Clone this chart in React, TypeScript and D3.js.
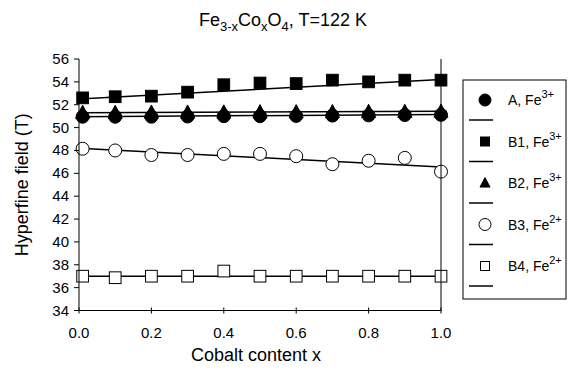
import React from "react";
import * as d3 from "d3";

// Cobalt content for every measured point
const cobalt = [0.01, 0.1, 0.2, 0.3, 0.4, 0.5, 0.6, 0.7, 0.8, 0.9, 1.0];

// hyperfine field (T) per site
const siteA = [50.95, 50.95, 50.95, 50.97, 51.0, 51.0, 51.02, 51.05, 51.07, 51.1, 51.12];
const siteB1 = [52.6, 52.7, 52.75, 53.1, 53.75, 53.9, 53.85, 54.15, 54.0, 54.15, 54.15];
const siteB2 = [51.3, 51.3, 51.32, 51.32, 51.33, 51.35, 51.35, 51.36, 51.38, 51.38, 51.4];
const siteB3 = [48.15, 48.0, 47.6, 47.6, 47.7, 47.7, 47.5, 46.8, 47.1, 47.35, 46.15];
const siteB4 = [37.0, 36.87, 37.0, 37.0, 37.45, 37.0, 37.0, 37.0, 37.0, 37.0, 37.0];

// linear fit ends at x = 0 and x = 1
const fitX = [0, 1];
const fitA = [50.95, 51.15];
const fitB1 = [52.5, 54.2];
const fitB2 = [51.3, 51.42];
const fitB3 = [48.2, 46.55];
const fitB4 = [37.0, 37.0];

const xTicks = [0, 0.2, 0.4, 0.6, 0.8, 1.0];
const yTicks = [34, 36, 38, 40, 42, 44, 46, 48, 50, 52, 54, 56];

type Shape = "circle" | "square" | "triangle";

const SERIES: { key: string; site: string; ion: string; shape: Shape; filled: boolean; values: number[]; fit: number[] }[] = [
  { key: "A", site: "A", ion: "3+", shape: "circle", filled: true, values: siteA, fit: fitA },
  { key: "B1", site: "B1", ion: "3+", shape: "square", filled: true, values: siteB1, fit: fitB1 },
  { key: "B2", site: "B2", ion: "3+", shape: "triangle", filled: true, values: siteB2, fit: fitB2 },
  { key: "B3", site: "B3", ion: "2+", shape: "circle", filled: false, values: siteB3, fit: fitB3 },
  { key: "B4", site: "B4", ion: "2+", shape: "square", filled: false, values: siteB4, fit: fitB4 },
];

const FONT = "'Liberation Sans', Arial, sans-serif";

function Marker({ shape, filled, cx, cy, size }: { shape: Shape; filled: boolean; cx: number; cy: number; size: number }) {
  const fill = filled ? "#000" : "#fff";
  const r = size / 2;
  if (shape === "circle") {
    return <circle cx={cx} cy={cy} r={r} fill={fill} stroke="#000" strokeWidth={1} />;
  }
  if (shape === "square") {
    return <rect x={cx - r * 0.9} y={cy - r * 0.9} width={r * 1.8} height={r * 1.8} fill={fill} stroke="#000" strokeWidth={1} />;
  }
  const h = r * 1.8;
  return (
    <path
      d={`M${cx},${cy - h * 0.6}L${cx + r},${cy + h * 0.45}L${cx - r},${cy + h * 0.45}Z`}
      fill={fill}
      stroke="#000"
      strokeWidth={1}
    />
  );
}

export default function App() {
  const width = 574;
  const height = 372;
  const margin = { left: 79, right: 133, top: 59, bottom: 61.5 };

  const x = d3.scaleLinear().domain([0, 1]).range([margin.left, width - margin.right]);
  const y = d3.scaleLinear().domain([34, 56]).range([height - margin.bottom, margin.top]);

  const line = d3
    .line<number>()
    .x((_, i) => x(fitX[i]))
    .y((d) => y(d));

  const legend = { x: 463, y: 80, w: 103, h: 219, step: 41.5 };

  return (
    <svg width={width} height={height} style={{ position: "absolute", left: 0, top: 0 }} fontFamily={FONT}>
      <rect width={width} height={height} fill="#fff" />

      {/* title */}
      <text x={283} y={26} fontSize={18} textAnchor="middle">
        Fe<tspan fontSize={13} dy={5}>3-x</tspan>
        <tspan dy={-5}>Co</tspan>
        <tspan fontSize={13} dy={5}>x</tspan>
        <tspan dy={-5}>O</tspan>
        <tspan fontSize={13} dy={5}>4</tspan>
        <tspan dy={-5}>, T=122 K</tspan>
      </text>

      {/* fit lines */}
      {SERIES.map((s) => (
        <path key={s.key + "-fit"} d={line(s.fit) || ""} fill="none" stroke="#000" strokeWidth={1.5} />
      ))}

      {/* markers */}
      {SERIES.map((s) => (
        <g key={s.key}>
          {s.values.map((v, i) => (
            <Marker key={i} shape={s.shape} filled={s.filled} cx={x(cobalt[i])} cy={y(v)} size={s.shape === "triangle" ? 14 : 13} />
          ))}
        </g>
      ))}

      {/* axes */}
      <line x1={x(0)} x2={x(0)} y1={y(34)} y2={y(56)} stroke="#000" strokeWidth={1} />
      <line x1={x(1)} x2={x(1)} y1={y(34)} y2={y(56)} stroke="#000" strokeWidth={1} />
      <line x1={x(0)} x2={x(1)} y1={y(34)} y2={y(34)} stroke="#000" strokeWidth={1} />
      {yTicks.map((t) => (
        <g key={t}>
          <line x1={x(0) - 5} x2={x(0)} y1={y(t)} y2={y(t)} stroke="#000" />
          <text x={x(0) - 10} y={y(t) + 5} fontSize={15} textAnchor="end">
            {t}
          </text>
        </g>
      ))}
      {xTicks.map((t) => (
        <g key={t}>
          <line x1={x(t)} x2={x(t)} y1={y(34) - 3} y2={y(34) + 3} stroke="#000" />
          <text x={x(t)} y={338} fontSize={15} textAnchor="middle">
            {d3.format(".1f")(t)}
          </text>
        </g>
      ))}
      <text x={256} y={361} fontSize={18} textAnchor="middle">
        Cobalt content x
      </text>
      <text transform={`translate(28,${(y(34) + y(56)) / 2}) rotate(-90)`} fontSize={18} textAnchor="middle">
        Hyperfine field (T)
      </text>

      {/* legend */}
      <rect x={legend.x} y={legend.y} width={legend.w} height={legend.h} fill="#fff" stroke="#000" strokeWidth={1} />
      {SERIES.map((s, i) => {
        const cy = legend.y + 20 + i * legend.step;
        return (
          <g key={s.key + "-leg"}>
            <Marker shape={s.shape} filled={s.filled} cx={485} cy={cy} size={s.shape === "circle" ? 12 : 10} />
            <line x1={469} x2={493} y1={cy + 20} y2={cy + 20} stroke="#000" strokeWidth={1.5} />
            <text x={508} y={cy + 5} fontSize={14}>
              {s.site}, Fe<tspan fontSize={11} dy={-7}>{s.ion}</tspan>
            </text>
          </g>
        );
      })}
    </svg>
  );
}
